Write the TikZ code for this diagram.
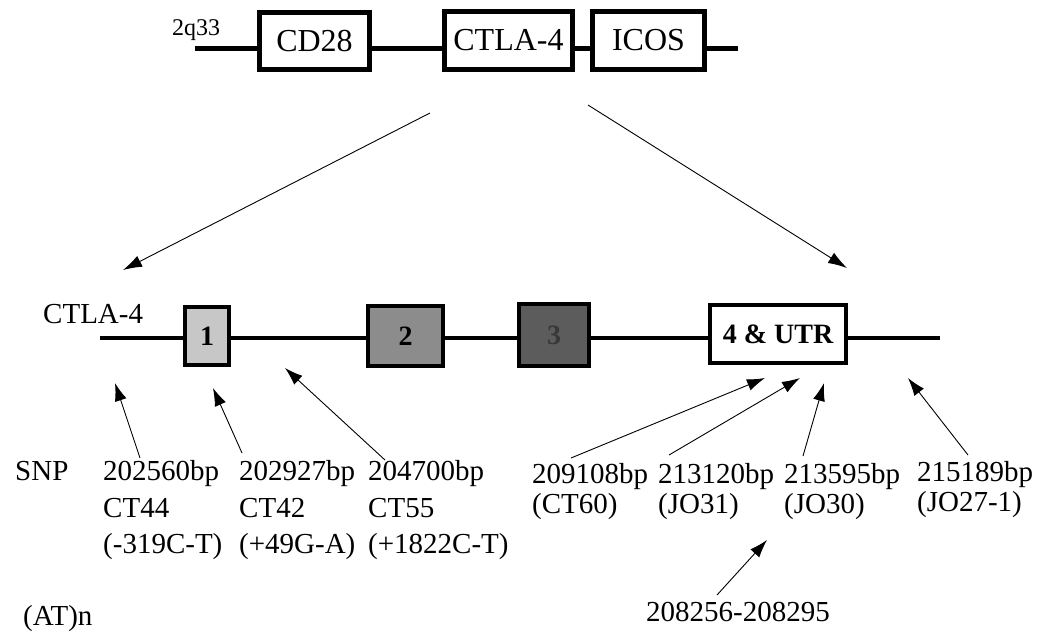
\documentclass[tikz,border=0pt]{standalone}
\usepackage{fontspec}
\setmainfont{Liberation Serif}
\usetikzlibrary{arrows.meta}
\definecolor{exonA}{gray}{0.78}
\definecolor{exonB}{gray}{0.55}
\definecolor{exonC}{gray}{0.36}
\definecolor{exonCtext}{gray}{0.22}
\begin{document}
\begin{tikzpicture}[x=1pt,y=-1pt,
  chrom/.style={line width=5pt},
  genebox/.style={draw, line width=5pt, fill=white, inner sep=0pt,
    font=\fontsize{32}{38}\selectfont},
  exon/.style={draw, line width=4pt, inner sep=0pt,
    font=\bfseries\fontsize{28}{34}\selectfont},
  zoomarrow/.style={line width=0.9pt, -{Latex[length=19pt,width=12pt]}},
  snparrow/.style={line width=0.9pt, -{Latex[length=18pt,width=12pt]}},
  lbl/.style={inner sep=0pt, anchor=base west, font=\fontsize{29}{34}\selectfont},
]
\useasboundingbox (0,0) rectangle (1053,633);

% ---- chromosome 2q33 region ----
\coordinate (top0) at (195,48);
\coordinate (top1) at (738,48);
\draw[chrom] (top0) -- (top1);
\node[lbl, font=\fontsize{24}{28}\selectfont] (band) at (172,35) {2q33};
\node[genebox, minimum width=110pt, minimum height=57pt] (cd28) at (314.5,41) {CD28};
\node[genebox, minimum width=128pt, minimum height=58pt] (ctla) at (508.5,40.5) {CTLA-4};
\node[genebox, minimum width=112pt, minimum height=58pt] (icos) at (648.5,40.5) {ICOS};

% ---- zoom into the CTLA-4 gene ----
\coordinate (zl0) at (430,113);
\coordinate (zl1) at (123,270);
\coordinate (zr0) at (588,105);
\coordinate (zr1) at (847,268);
\draw[zoomarrow] (zl0) -- (zl1);
\draw[zoomarrow] (zr0) -- (zr1);

% ---- CTLA-4 gene structure ----
\node[lbl] (gene) at (43,323) {CTLA-4};
\coordinate (g0) at (100,338);
\coordinate (g1) at (940,338);
\draw[line width=4.5pt] (g0) -- (g1);
\node[exon, fill=exonA, minimum width=44pt, minimum height=58pt] (ex1) at (207,336) {1};
\node[exon, fill=exonB, minimum width=75pt, minimum height=60pt] (ex2) at (405.5,336) {2};
\node[exon, fill=exonC, text=exonCtext, minimum width=70pt, minimum height=62pt] (ex3) at (554,335) {3};
\node[exon, fill=white, minimum width=136pt, minimum height=58pt] (ex4) at (778,334) {4 \& UTR};

% ---- SNP labels ----
\node[lbl] (snp) at (15,480) {SNP};
\node[lbl] (s1a) at (103,480) {202560bp};
\node[lbl] (s1b) at (103,517) {CT44};
\node[lbl] (s1c) at (103,553) {(-319C-T)};
\node[lbl] (s2a) at (239,480) {202927bp};
\node[lbl] (s2b) at (239,517) {CT42};
\node[lbl] (s2c) at (239,553) {(+49G-A)};
\node[lbl] (s3a) at (368,480) {204700bp};
\node[lbl] (s3b) at (368,517) {CT55};
\node[lbl] (s3c) at (368,553) {(+1822C-T)};
\node[lbl] (s4a) at (532,483) {209108bp};
\node[lbl] (s4b) at (532,513) {(CT60)};
\node[lbl] (s5a) at (658,483) {213120bp};
\node[lbl] (s5b) at (658,513) {(JO31)};
\node[lbl] (s6a) at (784,483) {213595bp};
\node[lbl] (s6b) at (784,513) {(JO30)};
\node[lbl] (s7a) at (917,481) {215189bp};
\node[lbl] (s7b) at (917,511) {(JO27-1)};

% ---- microsatellite ----
\node[lbl] (at) at (23,625) {(AT)n};
\node[lbl] (atpos) at (646,621) {208256-208295};

% ---- SNP pointers ----
\coordinate (t1) at (140,458); \coordinate (h1) at (115,383);
\coordinate (t2) at (242,453); \coordinate (h2) at (213,388);
\coordinate (t3) at (385,460); \coordinate (h3) at (285,368);
\coordinate (t4) at (571,458); \coordinate (h4) at (765,378);
\coordinate (t5) at (669,455); \coordinate (h5) at (800,378);
\coordinate (t6) at (803,456); \coordinate (h6) at (824,383);
\coordinate (t7) at (968,455); \coordinate (h7) at (908,378);
\coordinate (t8) at (717,595); \coordinate (h8) at (767,540);
\foreach \i in {1,...,8} \draw[snparrow] (t\i) -- (h\i);
\end{tikzpicture}
\end{document}
